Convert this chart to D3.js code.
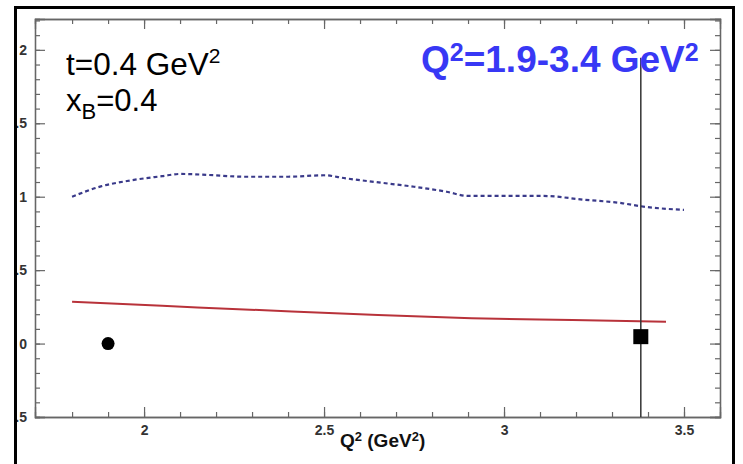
<!DOCTYPE html>
<html>
<head>
<meta charset="utf-8">
<script src="https://cdn.jsdelivr.net/npm/d3@7"></script>
<style>
  html, body { margin: 0; padding: 0; background: #fff; }
  svg { display: block; }
</style>
</head>
<body>
<svg id="chart" width="743" height="464"></svg>
<script>
// ---------- data ----------
const xTickValues = [2, 2.5, 3, 3.5];
const xTickLabels = ["2", "2.5", "3", "3.5"];
const yTickValues = [-0.5, 0, 0.5, 1, 1.5, 2];
const yTickLabels = ["-0.5", "0", "0.5", "1", "1.5", "2"];

// blue dotted curve
const blueQ2 = [1.80, 1.88, 1.96, 2.05, 2.10, 2.18, 2.28, 2.40, 2.50, 2.56, 2.66, 2.75, 2.84, 2.90, 3.01, 3.11, 3.22, 3.33, 3.38, 3.50];
const blueVal = [1.00, 1.07, 1.11, 1.14, 1.155, 1.148, 1.136, 1.136, 1.146, 1.125, 1.095, 1.068, 1.034, 1.005, 1.005, 1.005, 0.98, 0.955, 0.935, 0.91];

// red solid curve
const redQ2 = [1.80, 2.05, 2.32, 2.65, 2.91, 3.19, 3.45];
const redVal = [0.284, 0.257, 0.228, 0.194, 0.173, 0.160, 0.148];

// data points
const ptQ2 = [1.9, 3.38];
const ptVal = [0.0, 0.047];
const ptErr = [0, 1.9];
const ptShape = ["circle", "square"];

// ---------- layout ----------
const svg = d3.select("#chart");
const L = 35, R = 720, T = 19, B = 417;
const FONT = "Liberation Sans, Arial, sans-serif";

const x = d3.scaleLinear().domain([1.697, 3.6]).range([L, R]);
const y = d3.scaleLinear().domain([-0.5, 2.21]).range([B, T]);

// outer frame
svg.append("rect").attr("x", 15.5).attr("y", 7.5).attr("width", 718).attr("height", 470)
  .attr("fill", "none").attr("stroke", "#000").attr("stroke-width", 3);

const defs = svg.append("defs");
defs.append("clipPath").attr("id", "plotclip").append("rect")
  .attr("x", L).attr("y", T).attr("width", R - L).attr("height", B - T);
defs.append("clipPath").attr("id", "labelclip").append("rect")
  .attr("x", 17).attr("y", 0).attr("width", 720).attr("height", 464);

const axisColor = "#666";
const minorX = d3.range(1.8, 3.6, 0.1).map(v => +v.toFixed(2));
const minorY = d3.range(-0.5, 2.21, 0.1).map(v => +v.toFixed(2));

function styleAxis(g) {
  g.select(".domain").attr("stroke", axisColor).attr("stroke-width", 1.3);
  g.selectAll(".tick line").attr("stroke", axisColor).attr("stroke-width", 1.2);
}

// bottom axis minor + major
svg.append("g").attr("transform", `translate(0,${B})`)
  .call(d3.axisBottom(x).tickValues(minorX).tickSize(-5).tickFormat(""))
  .call(styleAxis);
const gxb = svg.append("g").attr("transform", `translate(0,${B})`)
  .call(d3.axisBottom(x).tickValues(xTickValues).tickSize(-10).tickPadding(6)
    .tickFormat((d, i) => xTickLabels[i]))
  .call(styleAxis);
gxb.selectAll(".tick text").attr("font-family", FONT)
  .attr("font-weight", "bold").attr("font-size", 14).attr("fill", "#333").attr("dy", "0.71em")
  .attr("y", 8);

// top axis
svg.append("g").attr("transform", `translate(0,${T})`)
  .call(d3.axisTop(x).tickValues(minorX).tickSize(-5).tickFormat(""))
  .call(styleAxis);
svg.append("g").attr("transform", `translate(0,${T})`)
  .call(d3.axisTop(x).tickValues(xTickValues).tickSize(-10).tickFormat(""))
  .call(styleAxis);

// left axis
svg.append("g").attr("transform", `translate(${L},0)`)
  .call(d3.axisLeft(y).tickValues(minorY).tickSize(-5).tickFormat(""))
  .call(styleAxis);
const gylWrap = svg.append("g").attr("clip-path", "url(#labelclip)");
const gyl = gylWrap.append("g").attr("transform", `translate(${L},0)`)
  .call(d3.axisLeft(y).tickValues(yTickValues).tickSize(-10).tickPadding(8)
    .tickFormat((d, i) => yTickLabels[i]))
  .call(styleAxis);
gyl.selectAll(".tick text").attr("font-family", FONT)
  .attr("font-weight", "bold").attr("font-size", 14).attr("fill", "#333");

// right axis
svg.append("g").attr("transform", `translate(${R},0)`)
  .call(d3.axisRight(y).tickValues(minorY).tickSize(-5).tickFormat(""))
  .call(styleAxis);
svg.append("g").attr("transform", `translate(${R},0)`)
  .call(d3.axisRight(y).tickValues(yTickValues).tickSize(-10).tickFormat(""))
  .call(styleAxis);

const plot = svg.append("g").attr("clip-path", "url(#plotclip)");

// blue dotted curve
const blueData = blueQ2.map((q, i) => [q, blueVal[i]]);
plot.append("path").datum(blueData)
  .attr("d", d3.line().x(d => x(d[0])).y(d => y(d[1])).curve(d3.curveMonotoneX))
  .attr("fill", "none").attr("stroke", "#3a3a8a").attr("stroke-width", 2.2)
  .attr("stroke-dasharray", "4,3");

// red solid curve
const redData = redQ2.map((q, i) => [q, redVal[i]]);
plot.append("path").datum(redData)
  .attr("d", d3.line().x(d => x(d[0])).y(d => y(d[1])).curve(d3.curveMonotoneX))
  .attr("fill", "none").attr("stroke", "#b8323a").attr("stroke-width", 2);

// error bars
ptQ2.forEach((q, i) => {
  if (ptErr[i] > 0) {
    plot.append("line")
      .attr("x1", x(q)).attr("x2", x(q))
      .attr("y1", y(ptVal[i] - ptErr[i])).attr("y2", y(ptVal[i] + ptErr[i]))
      .attr("stroke", "#333").attr("stroke-width", 1.5);
  }
});

// points
ptQ2.forEach((q, i) => {
  if (ptShape[i] === "circle") {
    plot.append("circle").attr("cx", x(q)).attr("cy", y(ptVal[i])).attr("r", 6.5).attr("fill", "#000");
  } else {
    plot.append("rect").attr("x", x(q) - 7.5).attr("y", y(ptVal[i]) - 7.5)
      .attr("width", 15).attr("height", 15).attr("fill", "#000");
  }
});

// annotation texts
const t1 = svg.append("text").attr("x", 66).attr("y", 75)
  .attr("font-family", FONT).attr("font-size", 31.5).attr("fill", "#000");
t1.append("tspan").text("t=0.4 GeV");
t1.append("tspan").attr("font-size", 21).attr("dy", -12).text("2");

const t2 = svg.append("text").attr("x", 66).attr("y", 111)
  .attr("font-family", FONT).attr("font-size", 31).attr("fill", "#000");
t2.append("tspan").text("x");
t2.append("tspan").attr("font-size", 22).attr("dy", 8).text("B");
t2.append("tspan").attr("dy", -8).text("=0.4");

const t3 = svg.append("text").attr("x", 421).attr("y", 72)
  .attr("font-family", FONT).attr("font-weight", "bold")
  .attr("font-size", 37).attr("fill", "#3838f5");
t3.append("tspan").text("Q");
t3.append("tspan").attr("font-size", 25).attr("dy", -11).text("2");
t3.append("tspan").attr("font-size", 37).attr("dy", 11).text("=1.9-3.4 GeV");
t3.append("tspan").attr("font-size", 25).attr("dy", -11).text("2");

const t4 = svg.append("text").attr("x", 340).attr("y", 447)
  .attr("font-family", FONT).attr("font-weight", "bold")
  .attr("font-size", 19).attr("fill", "#111");
t4.append("tspan").text("Q");
t4.append("tspan").attr("font-size", 13).attr("dy", -6).text("2");
t4.append("tspan").attr("font-size", 19).attr("dy", 6).text(" (GeV");
t4.append("tspan").attr("font-size", 13).attr("dy", -6).text("2");
t4.append("tspan").attr("font-size", 19).attr("dy", 6).text(")");
</script>
</body>
</html>
